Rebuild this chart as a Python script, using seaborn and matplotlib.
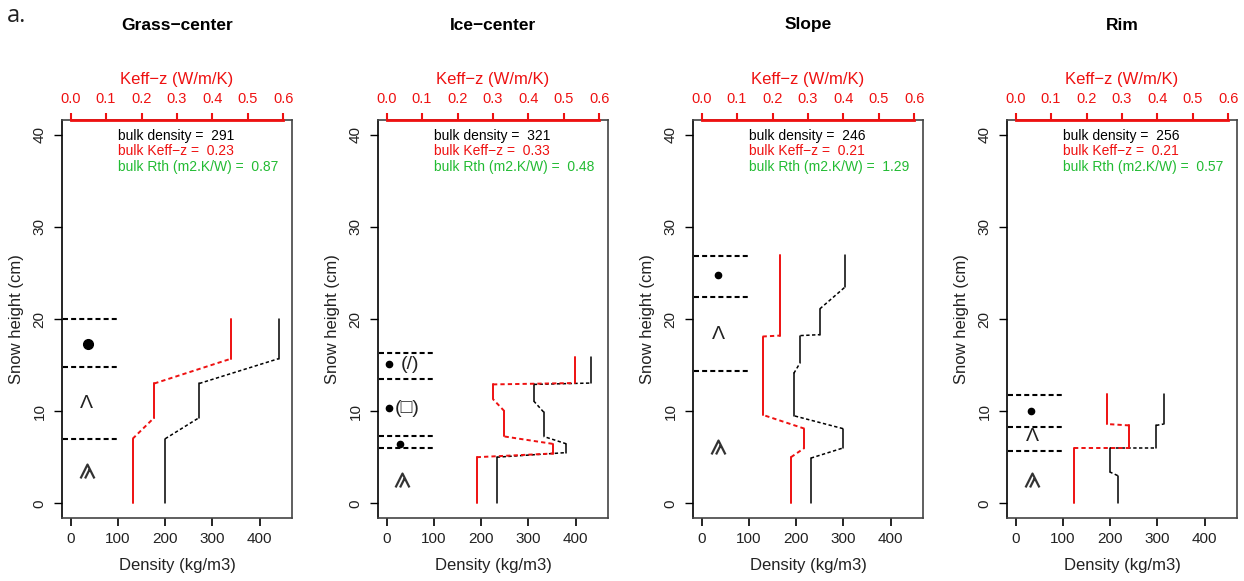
import numpy as np
import pandas as pd
import matplotlib
matplotlib.use("Agg")
import matplotlib.pyplot as plt
from matplotlib.path import Path
import seaborn as sns

# ---------------- data ----------------
titles = ["Grass\u2212center", "Ice\u2212center", "Slope", "Rim"]

# density layers (bottom, top, value kg/m3)
dens_bottom = [[0, 9.3, 15.7],
               [0, 5.5, 7.25, 11.1, 13.05],
               [0, 6.0, 9.5, 15.3, 18.3, 23.5],
               [0, 3.4, 5.95, 8.6]]
dens_top = [[7.0, 13.0, 20.0],
            [5.0, 6.45, 9.9, 12.9, 15.9],
            [4.9, 8.1, 14.1, 18.2, 21.1, 27.0],
            [3.0, 5.95, 8.45, 11.9]]
dens_val = [[200, 272, 440],
            [233, 380, 332, 311, 433],
            [231, 299, 195, 209, 250, 304],
            [216, 199, 297, 313]]

# Keff-z layers (bottom, top, value W/m/K)
keff_bottom = [[0, 9.3, 15.7],
               [0, 5.4, 7.25, 11.3, 13.05],
               [0, 6.0, 9.6, 18.2],
               [0, 5.95, 8.6]]
keff_top = [[7.0, 13.0, 20.0],
            [5.0, 6.45, 10.0, 12.9, 15.9],
            [5.0, 8.1, 18.1, 27.0],
            [5.95, 8.45, 11.9]]
keff_val = [[0.175, 0.236, 0.453],
            [0.254, 0.468, 0.332, 0.300, 0.530],
            [0.252, 0.290, 0.172, 0.221],
            [0.165, 0.320, 0.257]]

# stratigraphic layer boundaries (cm)
layer_bounds = [[20.0, 14.8, 7.0],
                [16.3, 13.5, 7.25, 6.0],
                [26.8, 22.4, 14.4],
                [11.7, 8.3, 5.7]]

# dots (x, height) and markersize
dot_x = [[36], [5, 5, 28], [34], [33]]
dot_y = [[17.3], [15.1, 10.3, 6.45], [24.75], [10.0]]
dot_size = [7, 4.5, 4.5, 4.5]

# text symbols: (text, x, height)
sym_text = [["\u039b"], ["(/)", "(\u25a1)"], ["\u039b"], ["\u039b"]]
sym_x = [[34], [50, 44], [35], [35]]
sym_y = [[10.8], [15.1, 10.3], [18.3], [7.2]]
# depth hoar symbols
dh_x = [34, 32, 35, 35]
dh_y = [3.5, 2.5, 6.1, 2.5]

bulk_density = [291, 321, 246, 256]
bulk_keff = ["0.23", "0.33", "0.21", "0.21"]
bulk_rth = ["0.87", "0.48", "1.29", "0.57"]

dens_ticks = [0, 100, 200, 300, 400]
keff_ticks = [0.0, 0.1, 0.2, 0.3, 0.4, 0.5, 0.6]
height_ticks = [0, 10, 20, 30, 40]

# ---------------- style ----------------
sns.set_theme(style="white")
plt.rcParams["font.family"] = ["Liberation Sans", "DejaVu Sans"]
plt.rcParams["axes.unicode_minus"] = True

W, H = 1244, 581
fig = plt.figure(figsize=(W / 100, H / 100), dpi=100)

lefts = [62, 378, 693, 1007]
pw, ptop, pbot = 230, 120, 518

RED = "#ee1111"
GREEN = "#22bb33"
FRAME = "#444444"

# depth-hoar marker: caret with a doubled left leg
dh_path = Path(
    [(-1.0, -1.0), (0.0, 1.0), (1.0, -1.0),
     (-0.35, -1.0), (0.3, 0.3)],
    [Path.MOVETO, Path.LINETO, Path.LINETO,
     Path.MOVETO, Path.LINETO])


def step_frame(bottoms, tops, vals):
    rows = []
    seg = 0
    n = len(vals)
    for i in range(n):
        rows.append((seg, "solid", vals[i], bottoms[i]))
        rows.append((seg, "solid", vals[i], tops[i]))
        seg += 1
        if i < n - 1:
            rows.append((seg, "dash", vals[i], tops[i]))
            rows.append((seg, "dash", vals[i + 1], bottoms[i + 1]))
            seg += 1
    return pd.DataFrame(rows, columns=["seg", "kind", "x", "y"])


for p in range(4):
    l = lefts[p]
    ax = fig.add_axes([l / W, 1 - pbot / H, pw / W, (pbot - ptop) / H])
    ax.set_facecolor("white")
    ax2 = ax.twiny()

    dfd = step_frame(dens_bottom[p], dens_top[p], dens_val[p])
    sns.lineplot(data=dfd, x="x", y="y", units="seg", estimator=None, sort=False,
                 style="kind", dashes={"solid": "", "dash": (2.2, 1.6)},
                 color="black", lw=1.1, legend=False, ax=ax)

    dfk = step_frame(keff_bottom[p], keff_top[p], keff_val[p])
    sns.lineplot(data=dfk, x="x", y="y", units="seg", estimator=None, sort=False,
                 style="kind", dashes={"solid": "", "dash": (2.2, 1.6)},
                 color=RED, lw=1.4, legend=False, ax=ax2)

    ax.set_xlim(-18, 468)
    ax.set_ylim(-1.6, 41.6)
    ax2.set_xlim(-0.024, 0.624)
    ax2.set_ylim(-1.6, 41.6)

    # layer boundaries
    ax.hlines(layer_bounds[p], -16, 100, colors="black", lw=1.5,
              linestyles=[(0, (2.4, 1.5))])

    # symbols
    ax.plot(dot_x[p], dot_y[p], "o", color="black", ms=dot_size[p], mec="black")
    for t, x, y in zip(sym_text[p], sym_x[p], sym_y[p]):
        ax.text(x, y, t, ha="center", va="center", fontsize=14, color="#222222",
                family=["Liberation Sans", "DejaVu Sans"])
    ax.plot([dh_x[p]], [dh_y[p]], linestyle="none", marker=dh_path, ms=10,
            mew=1.6, mec="#333333", mfc="none")

    # bulk texts
    ax.text(100, 39.9, f"bulk density =  {bulk_density[p]}", fontsize=10, color="black",
            ha="left", va="center")
    ax.text(100, 38.2, f"bulk Keff\u2212z =  {bulk_keff[p]}", fontsize=10, color=RED,
            ha="left", va="center")
    ax.text(100, 36.5, f"bulk Rth (m2.K/W) =  {bulk_rth[p]}", fontsize=10, color=GREEN,
            ha="left", va="center")

    # main axes styling
    for s in ax.spines.values():
        s.set_color(FRAME)
        s.set_linewidth(1.2)
    ax.spines["left"].set_color("black")
    ax.set_xticks(dens_ticks)
    ax.set_yticks(height_ticks)
    ax.set_yticklabels([str(v) for v in height_ticks], rotation=90, va="center")
    ax.tick_params(axis="x", bottom=True, direction="out", length=6, width=1.2,
                   colors="black", labelsize=11, pad=4, top=False)
    ax.tick_params(axis="y", left=True, direction="out", length=6, width=1,
                   colors="black", labelsize=11, pad=5)
    for lab in ax.get_xticklabels() + ax.get_yticklabels():
        lab.set_color("#222222")
    ax.set_xlabel("Density (kg/m3)", fontsize=12, labelpad=9, color="#222222")
    ax.set_ylabel("Snow height (cm)", fontsize=12, labelpad=6, color="#222222")

    # twin (Keff) axis styling
    for name, s in ax2.spines.items():
        s.set_visible(name == "top")
    ax2.spines["top"].set_color(RED)
    ax2.spines["top"].set_linewidth(2)
    ax2.spines["top"].set_bounds(0, 0.6)
    ax2.set_xticks(keff_ticks)
    ax2.set_xticklabels([f"{v:.1f}" for v in keff_ticks])
    ax2.tick_params(axis="x", top=True, bottom=False, direction="out", length=5,
                    width=1.5, colors=RED, labelsize=10.5, pad=5)
    ax2.set_xlabel("Keff\u2212z (W/m/K)", fontsize=12, color=RED, labelpad=6)
    ax2.set_ylabel("")

    # title
    fig.text((l + pw / 2) / W, 1 - 25 / H, titles[p], ha="center", va="center",
             fontsize=12.5, fontweight="bold", color="black")

fig.text(7 / W, 1 - 16 / H, "a.", ha="left", va="center", fontsize=17,
         family=["Open Sans", "DejaVu Sans"], color="#222222")

fig.savefig("out.png", dpi=100, facecolor="white")
